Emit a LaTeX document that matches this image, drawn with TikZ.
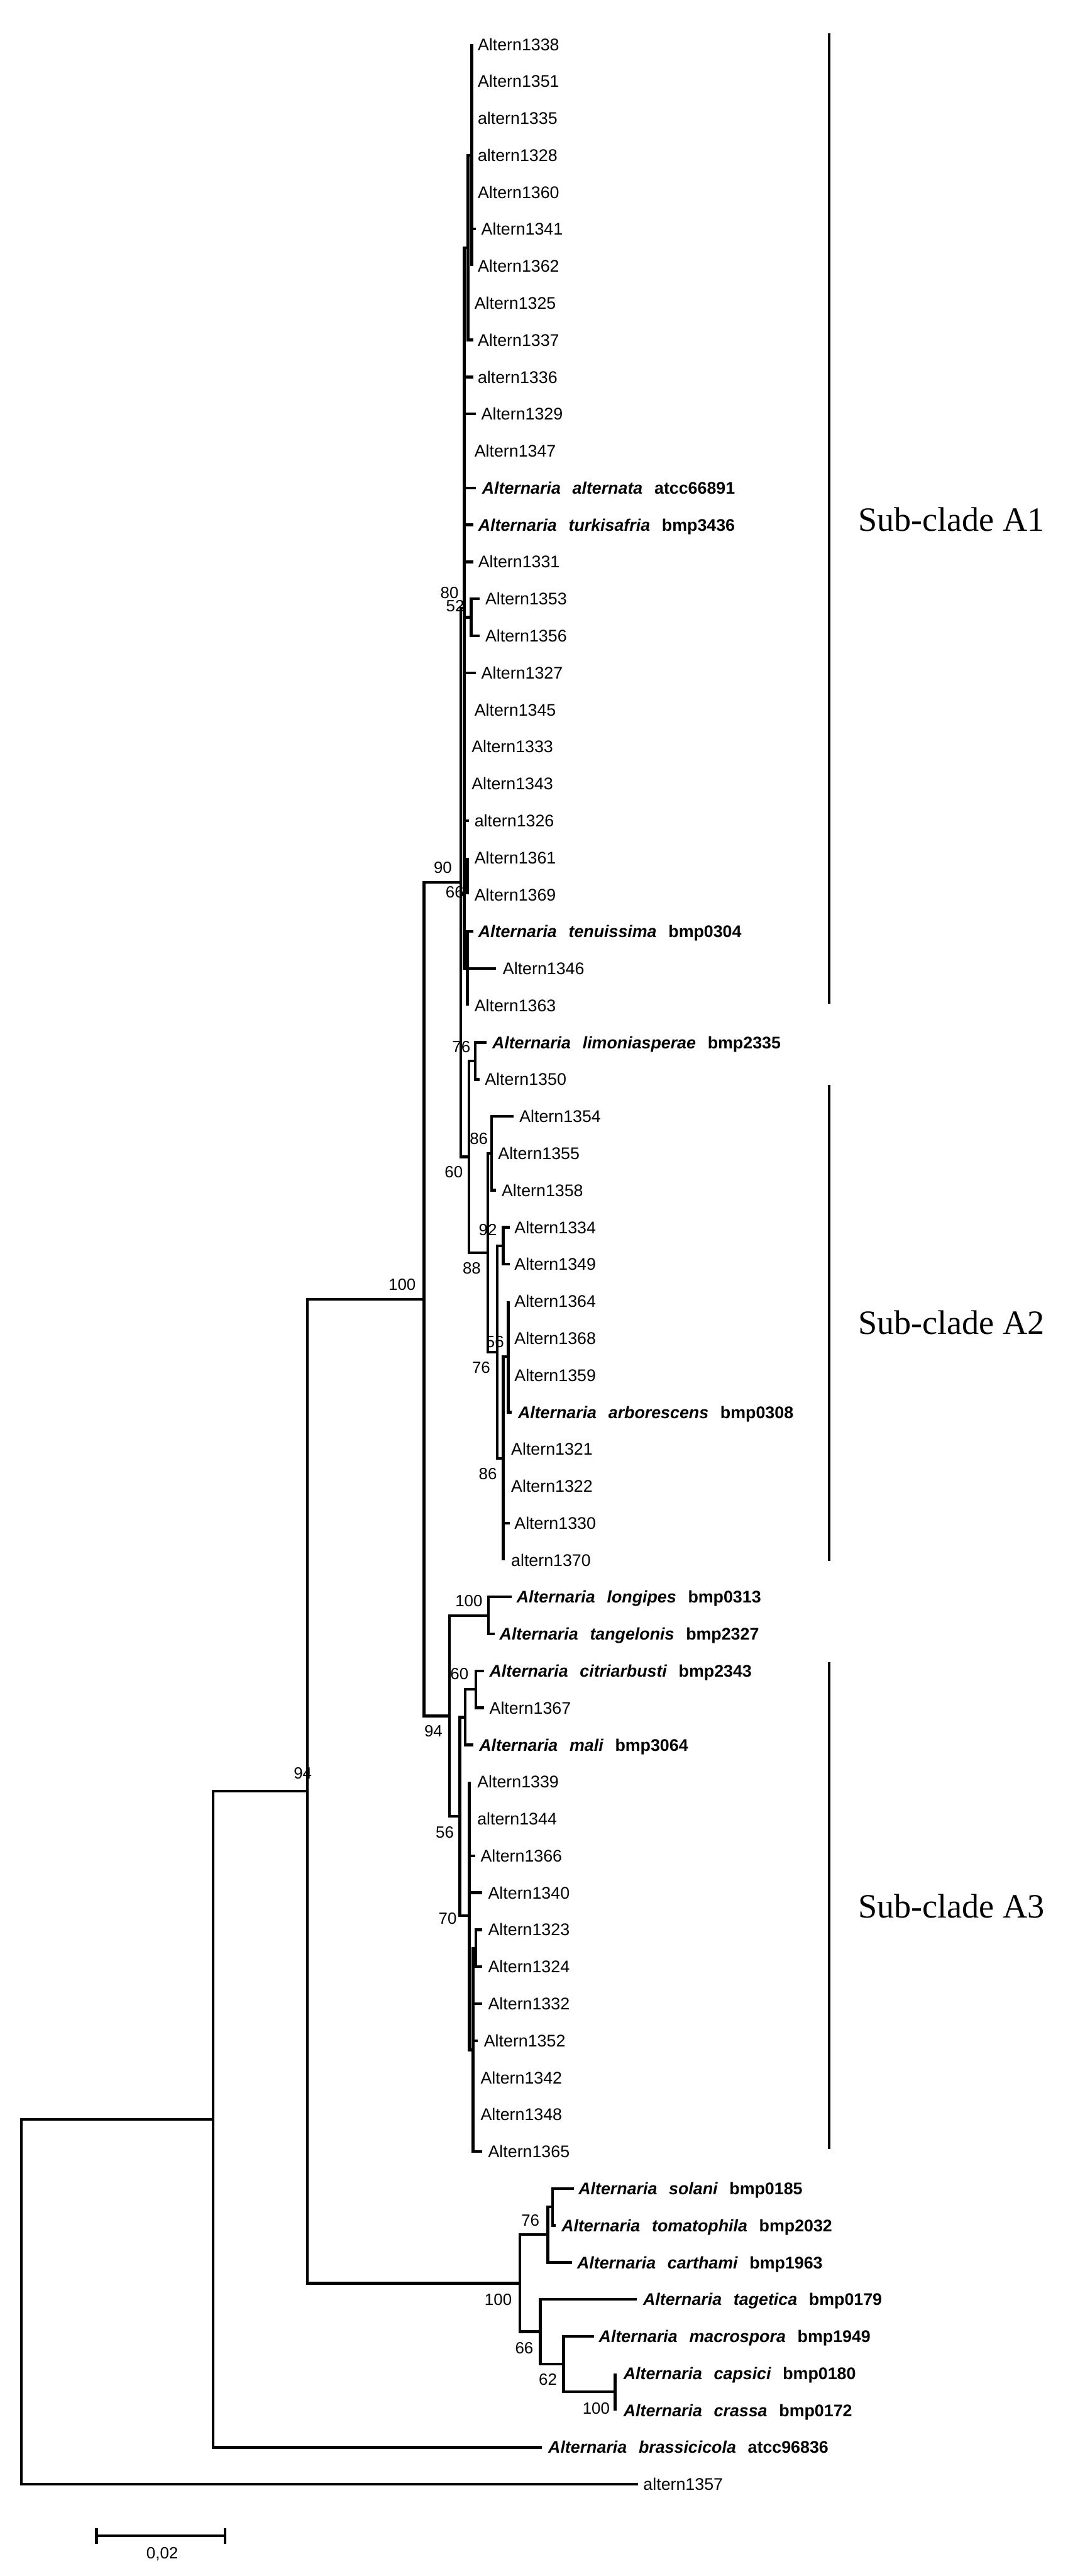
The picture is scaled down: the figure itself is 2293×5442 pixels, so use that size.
\documentclass[tikz,border=0pt]{standalone}
\usepackage{fontspec}
\setmainfont{Liberation Sans}
\newfontfamily\serifclade{Liberation Serif}
\usetikzlibrary{calc}
\newcommand\leaf[6]{%
  \pgfmathsetmacro\yy{93.5+(#4-1)*78.1}%
  \coordinate (#1) at (#3,\yy);
  \node[lab] (#1-t) at (#5,\yy) {#6};
  \draw[br] (#2) |- (#1);
}
\newcommand\spc[2]{{\bfseries\itshape Alternaria\hspace{0.7em}#1}\hspace{0.7em}{\bfseries #2}}
\begin{document}
\begin{tikzpicture}[x=0.25pt,y=-0.25pt,
  br/.style={line width=1.45pt, line join=miter},
  bk/.style={line width=1.4pt},
  lab/.style={anchor=west, inner sep=0pt, text height=6.4pt, text depth=0pt, font=\fontsize{8.9}{10}\selectfont},
  bs/.style={inner sep=0pt, text height=6.2pt, text depth=0pt, font=\fontsize{8.6}{10}\selectfont},
  clade/.style={anchor=west, inner sep=0pt, text height=11.9pt, text depth=0pt, font=\serifclade\fontsize{18}{20}\selectfont}]
\fill[white] (0,0) rectangle (2293,5442);
\useasboundingbox (0,0) rectangle (2293,5442);

% internal nodes
\coordinate (NA) at (997,327.8);
\coordinate (NB) at (989,523.05);
\coordinate (N80) at (996,1304.05);
\coordinate (N66) at (988,1850.75);
\coordinate (NT) at (988,2046);
\coordinate (NC) at (981,1284.5);
\coordinate (N90) at (974,1864.2);
\coordinate (N1004) at (1004,2241.25);
\coordinate (N1039) at (1039,2436.5);
\coordinate (N1063a) at (1063.5,2631.75);
\coordinate (N1074) at (1074,2866.05);
\coordinate (N1063b) at (1063.5,3080.8);
\coordinate (N1051) at (1051,2856.3);
\coordinate (N1031) at (1031,2646.4);
\coordinate (N991) at (991,2443.8);
\coordinate (N896) at (896,2744.6);
\coordinate (N1032) at (1032,3412.75);
\coordinate (N1006b) at (1006,3568.95);
\coordinate (N983) at (983,3627.5);
\coordinate (N1006c) at (1006,4115.65);
\coordinate (N1000) at (1000,4330.4);
\coordinate (N992) at (992,4047.3);
\coordinate (N972) at (972,3837.4);
\coordinate (N950) at (950,3625.1);
\coordinate (N1300) at (1300,5052.85);
\coordinate (N1191) at (1191,4994.3);
\coordinate (N1142) at (1142,4925.9);
\coordinate (N1168) at (1168,4662.35);
\coordinate (N1158) at (1158,4720.9);
\coordinate (N1099) at (1099,4823.4);
\coordinate (N650) at (650,3784);
\coordinate (N450) at (450,4477);
\coordinate (R0) at (45,4862.5);

% internal edges
\draw[br] (NB) |- (NA);
\draw[br] (NC) |- (NB);
\draw[br] (NC) |- (N80);
\draw[br] (NC) |- (N66);
\draw[br] (NC) |- (NT);
\draw[br] (N90) |- (NC);
\draw[br] (N90) |- (N991);
\draw[br] (N991) |- (N1004);
\draw[br] (N991) |- (N1031);
\draw[br] (N1031) |- (N1039);
\draw[br] (N1031) |- (N1051);
\draw[br] (N1051) |- (N1063a);
\draw[br] (N1051) |- (N1063b);
\draw[br] (N1063b) |- (N1074);
\draw[br] (N896) |- (N90);
\draw[br] (N896) |- (N950);
\draw[br] (N950) |- (N1032);
\draw[br] (N950) |- (N972);
\draw[br] (N972) |- (N983);
\draw[br] (N972) |- (N992);
\draw[br] (N983) |- (N1006b);
\draw[br] (N992) |- (N1000);
\draw[br] (N1000) |- (N1006c);
\draw[br] (N650) |- (N896);
\draw[br] (N650) |- (N1099);
\draw[br] (N1099) |- (N1158);
\draw[br] (N1099) |- (N1142);
\draw[br] (N1158) |- (N1168);
\draw[br] (N1142) |- (N1191);
\draw[br] (N1191) |- (N1300);
\draw[br] (N450) |- (N650);
\draw[br] (R0) |- (N450);

% leaves
\leaf{t1}{NA}{997}{1}{1009}{Altern1338}
\leaf{t2}{NA}{997}{2}{1009}{Altern1351}
\leaf{t3}{NA}{997}{3}{1009}{altern1335}
\leaf{t4}{NA}{997}{4}{1009}{altern1328}
\leaf{t5}{NA}{997}{5}{1009}{Altern1360}
\leaf{t6}{NA}{1006}{6}{1016.5}{Altern1341}
\leaf{t7}{NA}{997}{7}{1009}{Altern1362}
\leaf{t8}{NB}{989}{8}{1002}{Altern1325}
\leaf{t9}{NB}{1000}{9}{1009}{Altern1337}
\leaf{t10}{NC}{1000}{10}{1009}{altern1336}
\leaf{t11}{NC}{1006}{11}{1016.5}{Altern1329}
\leaf{t12}{NC}{983}{12}{1002}{Altern1347}
\leaf{t13}{NC}{1006}{13}{1018}{\spc{alternata}{atcc66891}}
\leaf{t14}{NC}{1000}{14}{1010}{\spc{turkisafria}{bmp3436}}
\leaf{t15}{NC}{1000}{15}{1010}{Altern1331}
\leaf{t16}{N80}{1014}{16}{1025}{Altern1353}
\leaf{t17}{N80}{1014}{17}{1025}{Altern1356}
\leaf{t18}{NC}{1006}{18}{1016.5}{Altern1327}
\leaf{t19}{NC}{981}{19}{1002}{Altern1345}
\leaf{t20}{NC}{981}{20}{996}{Altern1333}
\leaf{t21}{NC}{981}{21}{996}{Altern1343}
\leaf{t22}{NC}{991}{22}{1002}{altern1326}
\leaf{t23}{N66}{988}{23}{1002}{Altern1361}
\leaf{t24}{N66}{988}{24}{1002}{Altern1369}
\leaf{t25}{NT}{1000}{25}{1010}{\spc{tenuissima}{bmp0304}}
\leaf{t26}{NT}{1048}{26}{1062}{Altern1346}
\leaf{t27}{NT}{988}{27}{1002}{Altern1363}
\leaf{t28}{N1004}{1028}{28}{1039.5}{\spc{limoniasperae}{bmp2335}}
\leaf{t29}{N1004}{1014}{29}{1024}{Altern1350}
\leaf{t30}{N1039}{1086}{30}{1097}{Altern1354}
\leaf{t31}{N1039}{1039}{31}{1052}{Altern1355}
\leaf{t32}{N1039}{1048}{32}{1059.5}{Altern1358}
\leaf{t33}{N1063a}{1077}{33}{1086.5}{Altern1334}
\leaf{t34}{N1063a}{1077}{34}{1086.5}{Altern1349}
\leaf{t35}{N1074}{1074}{35}{1086.5}{Altern1364}
\leaf{t36}{N1074}{1074}{36}{1086.5}{Altern1368}
\leaf{t37}{N1074}{1074}{37}{1086.5}{Altern1359}
\leaf{t38}{N1074}{1082}{38}{1094}{\spc{arborescens}{bmp0308}}
\leaf{t39}{N1063b}{1063.5}{39}{1079.6}{Altern1321}
\leaf{t40}{N1063b}{1063.5}{40}{1079.6}{Altern1322}
\leaf{t41}{N1063b}{1077}{41}{1086.5}{Altern1330}
\leaf{t42}{N1063b}{1063.5}{42}{1079.6}{altern1370}
\leaf{t43}{N1032}{1082}{43}{1091}{\spc{longipes}{bmp0313}}
\leaf{t44}{N1032}{1045}{44}{1055}{\spc{tangelonis}{bmp2327}}
\leaf{t45}{N1006b}{1023}{45}{1033.7}{\spc{citriarbusti}{bmp2343}}
\leaf{t46}{N1006b}{1023}{46}{1033.7}{Altern1367}
\leaf{t47}{N983}{1000}{47}{1012}{\spc{mali}{bmp3064}}
\leaf{t48}{N992}{992}{48}{1008}{Altern1339}
\leaf{t49}{N992}{992}{49}{1008}{altern1344}
\leaf{t50}{N992}{1005}{50}{1015}{Altern1366}
\leaf{t51}{N992}{1019}{51}{1031}{Altern1340}
\leaf{t52}{N1006c}{1019}{52}{1031}{Altern1323}
\leaf{t53}{N1006c}{1019}{53}{1031}{Altern1324}
\leaf{t54}{N1000}{1019}{54}{1031}{Altern1332}
\leaf{t55}{N1000}{1010}{55}{1022}{Altern1352}
\leaf{t56}{N1000}{1000}{56}{1015}{Altern1342}
\leaf{t57}{N1000}{1000}{57}{1015}{Altern1348}
\leaf{t58}{N1000}{1019}{58}{1031}{Altern1365}
\leaf{t59}{N1168}{1213}{59}{1222}{\spc{solani}{bmp0185}}
\leaf{t60}{N1168}{1174}{60}{1186}{\spc{tomatophila}{bmp2032}}
\leaf{t61}{N1158}{1209}{61}{1219}{\spc{carthami}{bmp1963}}
\leaf{t62}{N1142}{1346}{62}{1358.5}{\spc{tagetica}{bmp0179}}
\leaf{t63}{N1191}{1255}{63}{1265}{\spc{macrospora}{bmp1949}}
\leaf{t64}{N1300}{1300}{64}{1317}{\spc{capsici}{bmp0180}}
\leaf{t65}{N1300}{1300}{65}{1317}{\spc{crassa}{bmp0172}}
\leaf{t66}{N450}{1145}{66}{1158}{\spc{brassicicola}{atcc96836}}
\leaf{t67}{R0}{1349}{67}{1359}{altern1357}

% bootstrap values
\node[bs] (b80) at (950,1252) {80};
\node[bs] (b52) at (962,1280) {52};
\node[bs] (b90) at (936,1832) {90};
\node[bs] (b66a) at (961,1884) {66};
\node[bs] (b76a) at (975,2211) {76};
\node[bs] (b86a) at (1012,2405) {86};
\node[bs] (b60a) at (959,2476) {60};
\node[bs] (b92) at (1031,2598) {92};
\node[bs] (b88) at (997,2678) {88};
\node[bs] (b100a) at (850,2713) {100};
\node[bs] (b56a) at (1046,2834) {56};
\node[bs] (b76b) at (1017,2888) {76};
\node[bs] (b86b) at (1031,3113) {86};
\node[bs] (b100b) at (991,3382) {100};
\node[bs] (b60b) at (971,3536) {60};
\node[bs] (b94a) at (916,3656) {94};
\node[bs] (b56b) at (940,3870) {56};
\node[bs] (b70) at (946,4053) {70};
\node[bs] (b94b) at (640,3745) {94};
\node[bs] (b76c) at (1121,4690) {76};
\node[bs] (b100c) at (1053,4857) {100};
\node[bs] (b66b) at (1108,4960) {66};
\node[bs] (b62) at (1158,5026) {62};
\node[bs] (b100d) at (1260,5087) {100};

% clade brackets
\coordinate (a1t) at (1752,70);   \coordinate (a1b) at (1752,2120);
\coordinate (a2t) at (1752,2292); \coordinate (a2b) at (1752,3298);
\coordinate (a3t) at (1752,3511); \coordinate (a3b) at (1752,4540);
\draw[bk] (a1t) -- (a1b);
\draw[bk] (a2t) -- (a2b);
\draw[bk] (a3t) -- (a3b);
\node[clade] (cA1) at (1813,1098) {Sub-clade A1};
\node[clade] (cA2) at (1813,2795) {Sub-clade A2};
\node[clade] (cA3) at (1813,4028) {Sub-clade A3};

% scale bar
\coordinate (s1) at (204,5357); \coordinate (s2) at (476,5357);
\draw[br] (s1) -- (s2);
\draw[br] ($(s1)+(0,-16)$) -- ($(s1)+(0,17)$);
\draw[br] ($(s2)+(0,-16)$) -- ($(s2)+(0,17)$);
\node[bs] (sl) at (343,5393) {0,02};
\end{tikzpicture}
\end{document}
